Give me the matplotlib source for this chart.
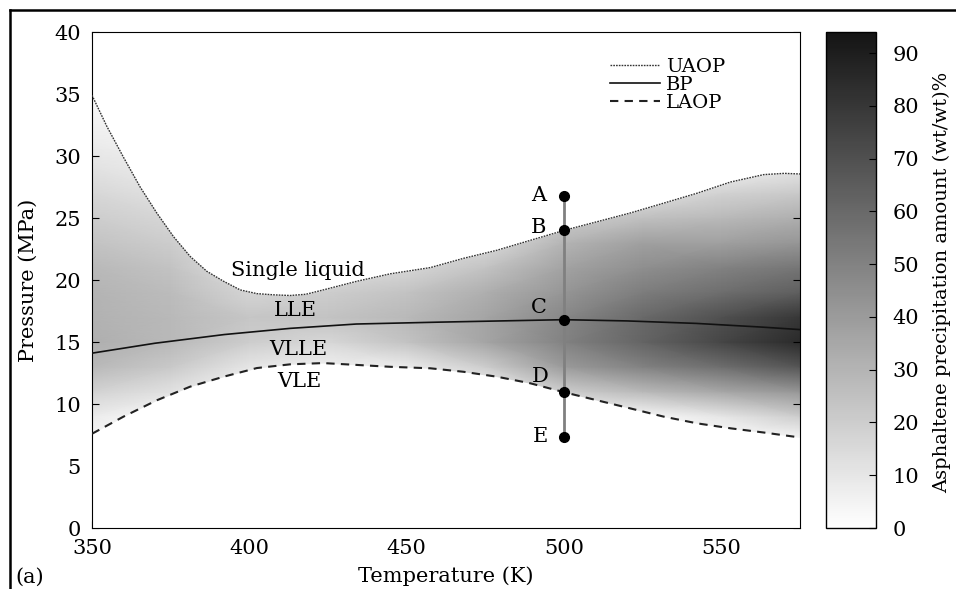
import numpy as np
import matplotlib.pyplot as plt
from matplotlib.lines import Line2D
from matplotlib.colors import LinearSegmentedColormap

plt.rcParams['font.family'] = 'DejaVu Serif'

# --- curves (T in K, P in MPa) ---
uaop_T = [350, 354.7, 360, 365.3, 370.6, 375.9, 381.2, 386.5, 391.8, 397.1, 402.4,
          408, 413, 418, 423.5, 434.2, 444.8, 457.5, 468.1, 478.7, 489.3, 500,
          510.5, 521, 531.7, 542.3, 552.9, 563.5, 570, 575]
uaop_P = [34.9, 32.4, 29.9, 27.5, 25.4, 23.5, 21.9, 20.7, 19.9, 19.2, 18.9,
          18.8, 18.75, 18.85, 19.2, 19.9, 20.5, 21.0, 21.75, 22.4, 23.2, 24.0,
          24.7, 25.4, 26.2, 27.0, 27.9, 28.5, 28.6, 28.55]

bp_T = [350, 370, 392, 413, 434, 460, 480, 500, 520, 542, 563, 575]
bp_P = [14.1, 14.9, 15.6, 16.1, 16.45, 16.6, 16.7, 16.8, 16.7, 16.5, 16.2, 16.0]

laop_T = [350, 360, 370.6, 381.2, 391.8, 402.4, 413, 423.5, 434.2, 444.8, 457.5,
          468, 478.7, 489.3, 500, 510.5, 521, 531.7, 542.3, 552.9, 563.5, 575]
laop_P = [7.6, 8.98, 10.3, 11.4, 12.2, 12.9, 13.2, 13.3, 13.15, 13.0, 12.88,
          12.6, 12.2, 11.67, 10.95, 10.3, 9.65, 8.98, 8.44, 8.04, 7.7, 7.3]

# isothermal path at 500 K
path_T = 500
path_P = [26.8, 24.0, 16.8, 10.95, 7.35]
path_labels = ['A', 'B', 'C', 'D', 'E']

# precipitation amount (wt/wt %) on a coarse grid, one row per temperature
grid_T = [350, 375, 400, 425, 450, 475, 500, 525, 550, 575]
grid_P = [7, 9, 11, 13, 15, 17, 19, 21, 23, 25, 27, 29, 31, 33, 35]
amount = [
    [3, 8, 18, 28, 32, 31, 30, 28, 24, 20, 16, 12, 8, 5, 3],
    [0, 2, 12, 22, 28, 28, 27, 24, 20, 16, 12, 8, 5, 3, 2],
    [0, 0, 2, 10, 20, 23, 17, 12, 8, 5, 3, 2, 1, 0, 0],
    [0, 0, 0, 6, 16, 24, 20, 12, 8, 5, 3, 2, 1, 0, 0],
    [0, 0, 0, 8, 24, 28, 24, 16, 10, 6, 3, 2, 1, 0, 0],
    [0, 0, 3, 20, 36, 36, 32, 24, 14, 8, 4, 2, 1, 0, 0],
    [0, 0, 20, 40, 50, 48, 42, 37, 30, 20, 12, 5, 2, 0, 0],
    [0, 3, 28, 50, 62, 60, 52, 45, 38, 25, 12, 5, 2, 0, 0],
    [0, 10, 35, 58, 74, 70, 58, 50, 38, 28, 18, 5, 2, 0, 0],
    [2, 20, 42, 68, 85, 80, 64, 55, 42, 32, 22, 10, 4, 0, 0],
]

FS = 15
W, H = 956, 589
fig = plt.figure(figsize=(W / 100, H / 100), dpi=100)
ax = fig.add_axes([92 / W, 1 - 528 / H, (800 - 92) / W, (528 - 32) / H])
cax = fig.add_axes([826 / W, 1 - 528 / H, 50 / W, 496 / H])

cmap = LinearSegmentedColormap.from_list('greys', ['#ffffff', '#141414'])

# heat map, then blank out the single-phase regions
TT, PP = np.meshgrid(grid_T, grid_P)
Z = np.array(amount).T
mesh = ax.pcolormesh(TT, PP, Z, shading='gouraud', cmap=cmap,
                     vmin=0, vmax=94, zorder=1, rasterized=True)
ax.fill_between(uaop_T, uaop_P, 40, color='white', lw=0, zorder=2)
ax.fill_between(laop_T, 0, laop_P, color='white', lw=0, zorder=2)

ax.plot(uaop_T, uaop_P, color='#333333', lw=1.0, ls=(0, (1.2, 0.8)), zorder=3, label='UAOP')
ax.plot(bp_T, bp_P, color='#111111', lw=1.2, zorder=3, label='BP')
ax.plot(laop_T, laop_P, color='#222222', lw=1.5, ls=(0, (4, 3)), zorder=3, label='LAOP')

ax.plot([path_T] * len(path_P), path_P, color='#808080', lw=2, zorder=4)
ax.plot([path_T] * len(path_P), path_P, 'o', color='black', ms=7, zorder=5)
offsets = [(-18, 0), (-18, 2), (-18, 9), (-17, 11), (-17, 0)]
for p, lab, off in zip(path_P, path_labels, offsets):
    ax.annotate(lab, (path_T, p), xytext=off, textcoords='offset points',
                ha='center', va='center', fontsize=FS, zorder=6)

ax.text(415.5, 20.8, 'Single liquid', ha='center', va='center', fontsize=FS, zorder=6)
ax.text(414.5, 17.5, 'LLE', ha='center', va='center', fontsize=FS, zorder=6)
ax.text(415.5, 14.4, 'VLLE', ha='center', va='center', fontsize=FS, zorder=6)
ax.text(416, 11.8, 'VLE', ha='center', va='center', fontsize=FS, zorder=6)

ax.set_xlim(350, 575)
ax.set_ylim(0, 40)
ax.set_xticks([350, 400, 450, 500, 550])
ax.set_yticks(np.arange(0, 41, 5))
ax.tick_params(direction='in', top=True, right=True, length=5, labelsize=FS, pad=8)
ax.set_xlabel('Temperature (K)', fontsize=FS, labelpad=6)
ax.set_ylabel('Pressure (MPa)', fontsize=FS, labelpad=12)

leg = ax.legend(loc='upper left', bbox_to_anchor=(0.715, 0.972), frameon=False,
                fontsize=14, handlelength=2.6, handletextpad=0.3, labelspacing=0.0,
                borderaxespad=0.2)

cb = fig.colorbar(mesh, cax=cax)
cb.set_ticks(np.arange(0, 91, 10))
cb.ax.tick_params(direction='in', length=5, labelsize=FS, pad=12)
cb.outline.set_linewidth(1)
fig.text(942 / W, 0.52, 'Asphaltene precipitation amount (wt/wt)%', rotation=90,
         ha='center', va='center', fontsize=FS - 1)

fig.text(15 / W, 1 - 577 / H, '(a)', ha='left', va='center', fontsize=FS)

# outer frame of the panel
fig.add_artist(Line2D([10 / W, 10 / W], [0, 1 - 10 / H], color='black', lw=1.8))
fig.add_artist(Line2D([10 / W, 1], [1 - 10 / H, 1 - 10 / H], color='black', lw=1.8))

fig.savefig('out.png', dpi=100)
